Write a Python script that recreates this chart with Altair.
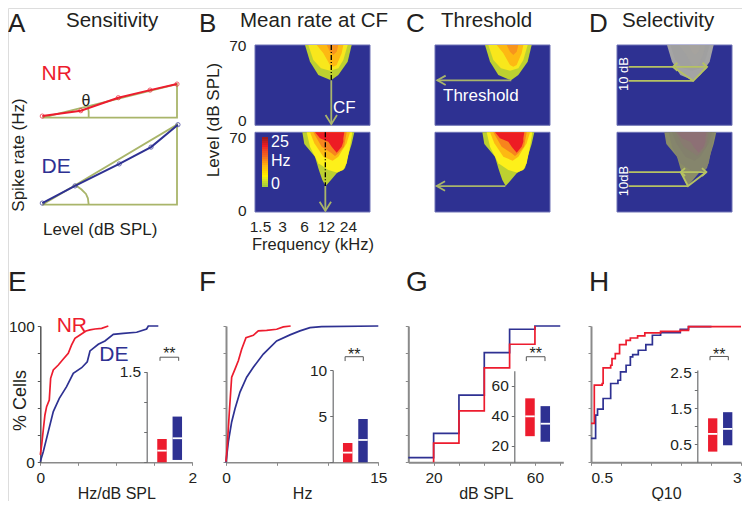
import altair as alt
import pandas as pd

W, H = 734, 493
FONT = "Liberation Sans"
RED, BLUE, OLIVE, GRAY, INK = "#ed1c2e", "#2e3192", "#a9b56a", "#8a8a8a", "#231f20"
OLIVE_D = "#b6c262"

# ---------- Panel A: rate-level functions ----------
a_nr_level = [0, 20, 39.5, 56, 70]
a_nr_rate = [0.4, 1.75, 5, 6.9, 8.4]
a_de_level = [0, 17, 40, 56.5, 70.5]
a_de_rate = [0.4, 4.7, 10.2, 14.4, 20]
a_nr_triangle = [(0, 0), (70, 0), (70, 8.4), (0, 0)]
a_de_triangle = [(0, 0), (70, 0), (70, 20), (0, 0)]
a_nr_arc = [(24.1, 0), (24.1, 1.5), (23.7, 2.6)]
a_de_arc = [(24.1, 0), (23.7, 1.6), (22.7, 2.7), (20.4, 3.8), (17.5, 4.8)]

# ---------- Panels B-D: tuning-curve contours (level, low edge, high edge, octaves above 1.5 kHz) ----------
top_contours = [
    ([70, 55.5, 43.9, 39.2], [2.045, 2.273, 2.652, 3.227], [4.167, 3.985, 3.561, 3.227]),
    ([70, 56.9, 49.7, 47.6], [2.197, 2.424, 2.773, 3.182], [3.985, 3.788, 3.561, 3.182]),
    ([70, 62.7, 52.6, 51.1], [2.576, 2.879, 3.182, 3.333], [3.788, 3.712, 3.485, 3.333]),
    ([70, 64.2, 61.3], [3.03, 3.182, 3.333], [3.561, 3.485, 3.333]),
]
bottom_contours = [
    ([70, 59.8, 48.6, 38.4, 34, 28.1, 22.8], [1.925, 2.015, 2.5, 2.652, 2.727, 2.833, 2.985],
     [4.288, 4.167, 3.985, 3.864, 3.485, 3.227, 2.985]),
    ([70, 57.4, 42.8, 36.9, 34.6], [2.121, 2.273, 2.652, 3.106, 3.485], [4.197, 4.091, 3.94, 3.788, 3.485]),
    ([70, 60.4, 48.6, 45], [2.273, 2.47, 2.879, 3.3], [4.091, 3.94, 3.561, 3.3]),
    ([70, 57.4, 51.5, 49.2], [2.424, 2.803, 3.258, 3.409], [3.94, 3.82, 3.561, 3.409]),
    ([70, 64.7, 61.8, 57.4, 52.1], [2.5, 2.727, 3.106, 3.258, 3.485], [3.833, 3.788, 3.788, 3.712, 3.485]),
]
heat_top_colors = ["#bdd030", "#f8e71c", "#fdb913", "#f7941d"]
heat_bottom_colors = ["#bdd030", "#fdf01a", "#fdb913", "#f7841d", "#ed1c24"]
gray_top_colors = ["#a4a4a4", "#a0a0a0", "#a3a29f", "#a6a39e"]
gray_bottom_colors = ["#8a8c68", "#85856c", "#83806c", "#887a70", "#8d7075"]

freq_ticks = [0, 1, 2, 3, 4]
cb_rates = [0, 1, 2, 3, 4, 5, 6, 7, 8, 9, 10, 11, 12, 13, 14, 15, 16, 17, 18, 19, 20, 21, 22, 23, 24]

b_top_stem = [[(3.24, 39.2), (3.24, 1)], [(2.98, 9), (3.24, 1), (3.5, 9)]]
b_bottom_stem = [[(2.97, 22.8), (2.97, 1)], [(2.71, 9), (2.97, 1), (3.23, 9)]]
b_top_dash = [(3.24, 70), (3.24, 39.2)]
b_bottom_dash = [(2.97, 70), (2.97, 22.8)]
c_top_arrow = [[(3.24, 39.2), (-0.12, 39.2)], [(0.258, 43.3), (-0.12, 39.2), (0.258, 35.1)]]
c_bottom_arrow = [[(2.97, 22.8), (-0.15, 22.8)], [(0.23, 27), (-0.15, 22.8), (0.23, 18.7)]]
d_top_marks = [
    [(0.303, 51), (3.864, 51)], [(0.303, 38.7), (3.24, 38.7)],
    [(2.318, 51), (3.24, 38.7), (3.864, 51)],
    [(2.518, 54.5), (2.318, 51), (2.518, 47.5)], [(3.664, 54.5), (3.864, 51), (3.664, 47.5)],
]
d_bottom_marks = [
    [(0.303, 35.1), (3.834, 35.1)], [(0.303, 22.8), (3.0, 22.8)],
    [(2.667, 35.1), (3.0, 22.8), (3.834, 35.1)],
    [(2.867, 38.6), (2.667, 35.1), (2.867, 31.6)], [(3.634, 38.6), (3.834, 35.1), (3.634, 31.6)],
]

# ---------- Panels E-H: cumulative distributions ----------
e_nr_x = [0, .018, .039, .061, .083, .118, .136, .171, .237, .303, .368, .412, .456, .522, .601, .654, .719, .807, .895]
e_nr_y = [5.4, 12.7, 23.7, 34.7, 40.8, 45.7, 61.6, 67.7, 71.4, 75.8, 80, 86.1, 91, 93.4, 96.3, 97.1, 97.8, 98.3, 100]
e_de_x = [0, .039, .105, .171, .25, .346, .434, .544, .618, .654, .763, .851, .961, 1.092, 1.268, 1.399, 1.421, 1.553]
e_de_y = [.5, 7.8, 22.5, 37.2, 46.9, 55.5, 65.3, 69.4, 73.8, 81.7, 86.6, 89, 93.9, 94.6, 95.4, 97.8, 100, 100]
f_nr_x = [0, .131, .328, .558, .886, 1.214, 1.542, 1.969, 2.691, 3.183, 4.004, 4.989, 5.645, 6.367]
f_nr_y = [.5, 12.6, 36.9, 62.4, 68.4, 74.5, 83, 91.5, 93.2, 96.4, 96.8, 97.6, 99.3, 100]
f_de_x = [0, .23, .558, .886, 1.378, 2.035, 2.691, 3.676, 4.989, 6.301, 7.286, 8.27, 9.419, 15]
f_de_y = [0, 15, 29.6, 39.3, 51.5, 62.4, 69.7, 79.4, 89.1, 93.5, 96.4, 98.8, 99.5, 100]
g_de_x = [10, 20, 30, 40, 50, 60, 70]
g_de_y = [3.4, 21.2, 49.3, 80.5, 97.6, 100, 100]
g_nr_x = [20, 20, 30, 40, 50, 60]
g_nr_y = [0, 14.1, 37.8, 69.3, 86.6, 100]
h_de_x = [.5, .577, .609, .702, .828, .949, .992, 1.085, 1.156, 1.195, 1.288, 1.414, 1.523, 1.66, 1.988, 2.125, 2.508]
h_de_y = [17.6, 34.6, 39, 46.8, 57.8, 60.2, 66.3, 71.2, 77.3, 79, 82.2, 86.3, 93.2, 95.1, 97.6, 99.6, 99.6]
h_nr_x = [.5, .555, .686, .702, .828, .85, .905, .976, 1.085, 1.156, 1.277, 1.397, 1.66, 1.988, 2.125, 3]
h_nr_y = [28.5, 56.6, 57.8, 69.3, 71.2, 76.1, 79.8, 86.3, 89.5, 91.2, 92.7, 94.9, 96.1, 96.8, 99.5, 99.5]

# ---------- Insets: low quartile, median, high quartile for NR and DE ----------
e_box = {"low": [0, .039], "mid": [.193, .398], "high": [.387, .757]}
f_box = {"low": [0, 0], "mid": [1.05, 2.42], "high": [2.09, 4.69]}
g_box = {"low": [26.4, 22.7], "mid": [39.6, 34.7], "high": [51.6, 46.4]}
h_box = {"low": [.296, .472], "mid": [.787, .926], "high": [1.22, 1.39]}


def px_x(domain, left, right):
    return alt.Scale(domain=domain, range=[left - 8, right - 8], nice=False, zero=False)


def px_y(domain, bottom, top):
    return alt.Scale(domain=domain, range=[bottom - 8, top - 8], nice=False, zero=False)


def label(text, x, y, size=17, color=INK, align="left", angle=0, baseline="alphabetic"):
    return alt.Chart(pd.DataFrame({"t": [text]})).mark_text(
        font=FONT, fontSize=size, color=color, align=align, baseline=baseline, angle=angle
    ).encode(x=alt.value(x - 8), y=alt.value(y - 8), text="t:N")


def polyline(segments, sx, sy, color=OLIVE, width=1.8, dash=None, interpolate="linear"):
    rows = [{"seg": s, "i": i, "a": p[0], "b": p[1]} for s, seg in enumerate(segments) for i, p in enumerate(seg)]
    kw = {"strokeDash": dash} if dash else {}
    return alt.Chart(pd.DataFrame(rows)).mark_line(
        color=color, strokeWidth=width, interpolate=interpolate, **kw
    ).encode(
        x=alt.X("a:Q", scale=sx, axis=None),
        y=alt.Y("b:Q", scale=sy, axis=None),
        detail="seg:N",
        order="i:Q",
    )


def axis_x(y_px, values, shown, title=None, pad=0, tsize=16, color=GRAY, width=1.5, tick=3, flush=False):
    keep = " || ".join(f"datum.value == {v}" for v in shown)
    kw = {"title": title, "titlePadding": pad, "titleFontSize": tsize, "titleFont": FONT,
          "titleFontWeight": "normal", "titleColor": INK} if title else {"title": None}
    return alt.Axis(orient="bottom", offset=-(H - (y_px - 8)), values=values, grid=False, format=".3~r",
                    labelExpr=f"({keep}) ? datum.label : ''", labelFont=FONT, labelFontSize=15.5,
                    labelColor=INK, labelPadding=5, labelOverlap=False, labelFlush=flush, domainColor=color,
                    domainWidth=width, tickColor=color, tickWidth=1, tickSize=tick, **kw)


def axis_y(x_px, values, shown, title=None, color=GRAY, width=1.5, tick=3, title_x=None, title_y=None, tsize=18):
    keep = " || ".join(f"datum.value == {v}" for v in shown) if shown else "false"
    kw = {"title": title, "titleX": title_x, "titleY": title_y, "titleBaseline": "alphabetic",
          "titleFontSize": tsize, "titleFont": FONT,
          "titleFontWeight": "normal", "titleColor": INK} if title else {"title": None}
    return alt.Axis(orient="left", offset=-(x_px - 8), values=values, grid=False, format=".3~r",
                    labelExpr=f"({keep}) ? datum.label : ''", labelFont=FONT, labelFontSize=15.5,
                    labelColor=INK, labelPadding=3, labelOverlap=False, labelFlush=False, domainColor=color,
                    domainWidth=width, tickColor=color, tickWidth=1, tickSize=tick, **kw)


def curve(xv, yv, color, sx, sy, ax=None, ay=None, interpolate="linear", width=1.7):
    df = pd.DataFrame({"v": xv, "p": yv, "i": range(len(xv))})
    return alt.Chart(df).mark_line(color=color, strokeWidth=width, interpolate=interpolate).encode(
        x=alt.X("v:Q", scale=sx, axis=ax),
        y=alt.Y("p:Q", scale=sy, axis=ay),
        order="i:Q",
    )


def heat(left, bottom, top, contours, colors, extras=()):
    sx = px_x([-0.227, 5], left, left + 115)
    sy = px_y([0, 70], bottom, top)
    bg = alt.Chart(pd.DataFrame({"a": [-0.227], "a2": [5], "b": [0], "b2": [70]})).mark_rect(
        color=BLUE, stroke="#6f73b5", strokeWidth=1
    ).encode(x=alt.X("a:Q", scale=sx, axis=None), x2="a2:Q", y=alt.Y("b:Q", scale=sy, axis=None), y2="b2:Q")
    parts = [bg]
    for (levels, lo, hi), col in zip(contours, colors):
        df = pd.DataFrame({"level": levels, "lo": lo, "hi": hi})
        parts.append(alt.Chart(df).mark_area(color=col, orient="horizontal", opacity=1).encode(
            y=alt.Y("level:Q", scale=sy, axis=None),
            x=alt.X("lo:Q", scale=sx, axis=None),
            x2="hi:Q",
        ))
    for build in extras:
        parts.extend(build(sx, sy))
    return parts


def inset(box, c1, c2, domain, bottom, top, ticks, shown, bracket_x, bracket_y, leg_y, star_y, axis_px):
    step = c2 - c1
    sx = px_x([0.5, 2.5], c1 - step / 2, c2 + step / 2)
    sy = px_y(domain, bottom, top)
    df = pd.DataFrame({"pos": [1, 2], "col": [RED, BLUE], **box})
    df["x0"] = df["pos"] - 0.31
    df["x1"] = df["pos"] + 0.31
    axis_layer = alt.Chart(pd.DataFrame({"v": [1], "w": [domain[0]]})).mark_point(opacity=0).encode(
        x=alt.X("v:Q", scale=sx, axis=None),
        y=alt.Y("w:Q", scale=sy, axis=axis_y(axis_px, ticks, shown, color="#6d6e70", width=1.2)),
    )
    bars = alt.Chart(df).mark_rect().encode(
        x=alt.X("x0:Q", scale=sx, axis=None), x2="x1:Q",
        y=alt.Y("low:Q", scale=sy, axis=None), y2="high:Q",
        color=alt.Color("col:N", scale=None, legend=None),
    )
    medians = alt.Chart(df).mark_rule(color="white", strokeWidth=1.8).encode(
        x=alt.X("x0:Q", scale=sx, axis=None), x2="x1:Q",
        y=alt.Y("mid:Q", scale=sy, axis=None),
    )
    bracket = polyline([[(bracket_x[0], leg_y), (bracket_x[0], bracket_y), (bracket_x[1], bracket_y), (bracket_x[1], leg_y)]],
                       sx, sy, color="#555555", width=1)
    star = alt.Chart(pd.DataFrame({"a": [sum(bracket_x) / 2], "b": [star_y], "t": ["**"]})).mark_text(
        font=FONT, fontSize=16, color=INK, baseline="middle", align="center"
    ).encode(x=alt.X("a:Q", scale=sx, axis=None), y=alt.Y("b:Q", scale=sy, axis=None), text="t:N")
    return [axis_layer, bars, medians, bracket, star]


# ---------- Panel A ----------
ax = px_x([0, 70], 42.3, 177)
ay_top = px_y([0, 30], 117.7, -2.3)
ay_bot = px_y([0, 30], 204.7, 84.7)


def a_panel(tri, arc, lev, rate, color, sy):
    df = pd.DataFrame({"v": lev, "p": rate})
    return [
        polyline([tri, arc], ax, sy),
        curve(lev, rate, color, ax, sy, width=2),
        alt.Chart(df).mark_point(filled=False, color=color, size=18, strokeWidth=1).encode(
            x=alt.X("v:Q", scale=ax, axis=None), y=alt.Y("p:Q", scale=sy, axis=None)),
    ]


panel_a = a_panel(a_nr_triangle, a_nr_arc, a_nr_level, a_nr_rate, RED, ay_top) + \
    a_panel(a_de_triangle, a_de_arc, a_de_level, a_de_rate, BLUE, ay_bot)

# ---------- Panels B, C, D ----------
freq_axis = alt.Axis(orient="bottom", offset=-(H - (212 - 8)), values=freq_ticks, grid=False, domain=False, ticks=False,
                     labelExpr="[1.5, 3, 6, 12, 24][datum.value]", labelFont=FONT, labelFontSize=15.5, labelColor=INK,
                     labelPadding=7, labelFlush=False, labelOverlap=False, title="Frequency (kHz)", titleFont=FONT, titleFontSize=16.5,
                     titleFontWeight="normal", titleColor=INK, titlePadding=2)


def level_axis(values):
    return alt.Axis(orient="left", offset=-(255 - 8), values=values, grid=False, domain=False, ticks=False,
                    labelExpr="datum.value < 10 ? '0' : '70'",
                    labelFont=FONT, labelFontSize=15.5, labelColor=INK, labelPadding=9, title=None, labelFlush=False)


def stems(seg, dash):
    def build(sx, sy):
        return [polyline(seg, sx, sy), polyline([dash], sx, sy, color="black", width=1.3, dash=[5, 2, 1, 2])]
    return build


def marks(seg, color=OLIVE):
    return lambda sx, sy: [polyline(seg, sx, sy, color=color)]


def axes_b(ax_y, ax_x=None):
    def build(sx, sy):
        return [alt.Chart(pd.DataFrame({"v": freq_ticks, "w": [0, 0, 0, 0, 0]})).mark_point(opacity=0).encode(
            x=alt.X("v:Q", scale=sx, axis=ax_x), y=alt.Y("w:Q", scale=sy, axis=ax_y))]
    return build


b1 = heat(255, 125.3, 45, top_contours, heat_top_colors, [stems(b_top_stem, b_top_dash), axes_b(level_axis([3.75, 70]))])
b2 = heat(255, 212, 132.3, bottom_contours, heat_bottom_colors,
          [stems(b_bottom_stem, b_bottom_dash), axes_b(level_axis([1.7, 65.4]), freq_axis)])
c1 = heat(435, 125.3, 45, top_contours, heat_top_colors, [marks(c_top_arrow)])
c2 = heat(435, 212, 132.3, bottom_contours, heat_bottom_colors, [marks(c_bottom_arrow)])
d1 = heat(617, 125.3, 45, top_contours, gray_top_colors, [marks(d_top_marks, OLIVE_D)])
d2 = heat(617, 212, 132.3, bottom_contours, gray_bottom_colors, [marks(d_bottom_marks, OLIVE_D)])

colorbar = alt.Chart(pd.DataFrame({"r": cb_rates})).transform_calculate(r2="datum.r + 1").mark_rect(
    x=262 - 8, x2=268 - 8
).encode(
    y=alt.Y("r:Q", scale=px_y([0, 25], 187, 137), axis=None),
    y2="r2:Q",
    color=alt.Color("r:Q", legend=None, scale=alt.Scale(domain=[0, 5, 10, 15, 20, 25],
                    range=["#a6ce39", "#fff200", "#fdb913", "#f26522", "#ed1c24", "#8b1a1a"])),
)

# ---------- Panels E-H ----------
ticks_pct = [0, 20, 40, 60, 80, 100]
e_sx = px_x([0, 2], 40.3, 192.3)
e_sy = px_y([0, 100], 462.3, 326)
panel_e = [
    curve(e_de_x, e_de_y, BLUE, e_sx, e_sy,
          axis_x(462.3, [0, .5, 1, 1.5, 2], [0, 2], "Hz/dB SPL"),
          axis_y(40.3, ticks_pct, [0, 100], "% Cells", color="#555555", title_x=-15.3, title_y=392)),
    curve(e_nr_x, e_nr_y, RED, e_sx, e_sy),
]
f_sx = px_x([0, 15], 226, 378.3)
f_sy = px_y([0, 100], 462.3, 326)
panel_f = [
    curve(f_de_x, f_de_y, BLUE, f_sx, f_sy,
          axis_x(462.3, [0, 5, 10, 15], [0, 15], "Hz"),
          axis_y(226, ticks_pct, [], color=GRAY, width=2)),
    curve(f_nr_x, f_nr_y, RED, f_sx, f_sy),
]
g_sx = px_x([10, 71.2], 408.3, 563.3)
g_sy = px_y([0, 100], 462.3, 326)
panel_g = [
    curve(g_de_x, g_de_y, BLUE, g_sx, g_sy,
          axis_x(462.3, [20, 30, 40, 50, 60, 70], [20, 60], "dB SPL", width=2),
          axis_y(408.3, ticks_pct, [], color=GRAY, width=2), interpolate="step-after"),
    curve(g_nr_x, g_nr_y, RED, g_sx, g_sy, interpolate="step-after"),
]
h_sx = px_x([.5, 3], 591, 741)
h_sy = px_y([0, 100], 462.3, 326)
panel_h = [
    curve(h_de_x, h_de_y, BLUE, h_sx, h_sy,
          axis_x(462.3, [.5, 1, 1.5, 2, 2.5, 3], [.5, 3], "Q10", width=2, flush=True),
          axis_y(591, ticks_pct, [], color=GRAY, width=2), interpolate="step-after"),
    curve(h_nr_x, h_nr_y, RED, h_sx, h_sy, interpolate="step-after"),
]

inset_e = inset(e_box, 162, 177.3, [0, 1.5], 462.3, 371.7, [0, .5, 1, 1.5], [1.5], (.87, 2.09), 1.74, 1.68, 1.79, 146.7)
inset_f = inset(f_box, 347.7, 363, [0, 10], 462.3, 370, [0, 5, 10], [5, 10], (.83, 2.02), 11.44, 10.97, 11.67, 332.7)
inset_g = inset(g_box, 530, 545.3, [9, 70], 462.3, 370.7, [20, 40, 60], [20, 40, 60], (.76, 1.98), 79.3, 76.4, 80.8, 514.3)
inset_h = inset(h_box, 712.7, 727.7, [0, 2.56], 462.3, 370, [.5, 1, 1.5, 2, 2.5], [.5, 1.5, 2.5], (.82, 2.04), 2.935, 2.83, 2.977, 697.3)

# ---------- Text ----------
titles = [("Sensitivity", 66, 27), ("Mean rate at CF", 240, 27), ("Threshold", 441, 27), ("Selectivity", 622, 27)]
top_letters = [("A", 8, 31.5), ("B", 199, 31.5), ("C", 406, 31.5), ("D", 589, 31.5)]
bottom_letters = [("E", 8, 291), ("F", 199, 291), ("G", 406, 291), ("H", 589, 291)]
texts = [label(t, x, y, 20.5) for t, x, y in titles] + [label(t, x, y, 26) for t, x, y in top_letters] + \
    [label(t, x, y, 28) for t, x, y in bottom_letters] + [
    label("NR", 41.5, 80, 21, RED), label("DE", 41.5, 173, 21, BLUE),
    label("θ", 86, 101, 16, baseline="middle", align="center"),
    label("Spike rate (Hz)", 23.5, 155, 17, angle=270, align="center"),
    label("Level (dB SPL)", 43, 235, 17),
    label("Level (dB SPL)", 219, 120, 17, angle=270, align="center"),
    label("CF", 333, 113, 17, "white"),
    label("25", 271, 147, 16, "white"), label("Hz", 271, 166, 16, "white"), label("0", 271, 189, 16, "white"),
    label("Threshold", 443, 101, 17, "white"),
    label("10 dB", 628, 74, 13, "white", angle=270, align="center"),
    label("10dB", 628, 181, 13, "white", angle=270, align="center"),
    label("NR", 56.7, 331.7, 21, RED), label("DE", 99.3, 361, 21, BLUE),
]

chart = alt.layer(
    *panel_a, *b1, *b2, *c1, *c2, *d1, *d2, colorbar,
    *panel_e, *panel_f, *panel_g, *panel_h,
    *inset_e, *inset_f, *inset_g, *inset_h,
    *texts,
).resolve_scale(x="independent", y="independent", color="independent").properties(
    width=W, height=H, padding=0, autosize=alt.AutoSizeParams(type="none")
).configure_view(stroke=None).configure(background="white")

chart.save("out.html", embed_options={"renderer": "svg", "actions": False})
